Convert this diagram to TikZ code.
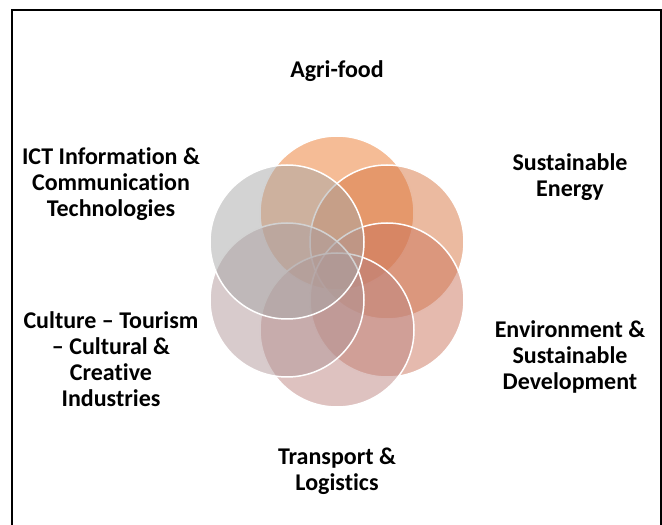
\documentclass[tikz,border=0pt]{standalone}
\usepackage{fontspec}
\setmainfont{Carlito}[Ligatures=NoCommon]
\usepackage{tikz}

\definecolor{agri}{RGB}{235,121,45}
\definecolor{energy}{RGB}{215,117,65}
\definecolor{environ}{RGB}{203,117,93}
\definecolor{transp}{RGB}{189,133,129}
\definecolor{culture}{RGB}{177,151,153}
\definecolor{ict}{RGB}{167,167,167}

\tikzset{
  ring/.style={fill opacity=0.5, draw=white, line width=1.5pt},
  lbl/.style={font=\bfseries\fontsize{24}{26}\selectfont, align=center}
}

\begin{document}
\begin{tikzpicture}[x=1pt,y=1pt]
    \useasboundingbox (0,0) rectangle (662,525);
    \draw [line width=2pt] (12,-5) -- (12,515) -- (661,515) -- (661,-5);
    \filldraw [ring, fill=agri] (337,312) circle (77pt);
    \filldraw [ring, fill=energy] (387,283) circle (77pt);
    \filldraw [ring, fill=environ] (387,225) circle (77pt);
    \filldraw [ring, fill=transp] (337,195) circle (77pt);
    \filldraw [ring, fill=culture] (287,225) circle (77pt);
    \filldraw [ring, fill=ict] (287,283) circle (77pt);
    \node [lbl] (agrilbl) at (337,454) {Agri-food};
    \node [lbl] (energylbl) at (570,348) {Sustainable\\Energy};
    \node [lbl] (envlbl) at (570,168) {Environment \&\\Sustainable\\Development};
    \node [lbl] (translbl) at (337,54) {Transport \&\\Logistics};
    \node [lbl] (cultlbl) at (111,166) {Culture – Tourism\\– Cultural \&\\Creative\\Industries};
    \node [lbl] (ictlbl) at (111,341) {ICT Information \&\\Communication\\Technologies};
\end{tikzpicture}
\end{document}
